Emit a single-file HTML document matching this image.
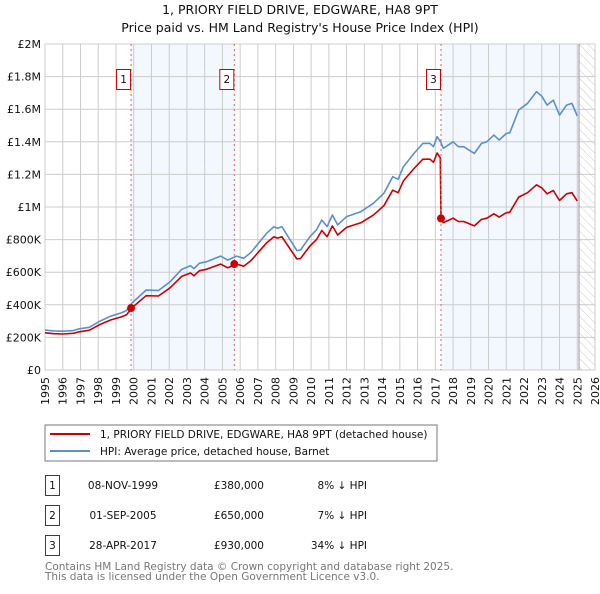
<!DOCTYPE html>
<html><head><meta charset="utf-8"><style>
body{margin:0;background:#fff;width:600px;height:590px;overflow:hidden;font-family:"DejaVu Sans","Liberation Sans",sans-serif;}
svg text{font-family:"DejaVu Sans","Liberation Sans",sans-serif;}
</style></head><body>
<svg id="chart" width="600" height="590" viewBox="0 0 600 590" xmlns="http://www.w3.org/2000/svg">
<defs><pattern id="hatch" width="6" height="6" patternUnits="userSpaceOnUse" patternTransform="rotate(-45)"><line x1="0" y1="0" x2="0" y2="6" stroke="#ccc" stroke-width="1"/></pattern></defs>
<text x="300" y="14" text-anchor="middle" font-size="12.5" fill="#111">1, PRIORY FIELD DRIVE, EDGWARE, HA8 9PT</text>
<text x="300" y="32" text-anchor="middle" font-size="12.5" fill="#111">Price paid vs. HM Land Registry's House Price Index (HPI)</text>
<g id="bg"></g><g id="grid"></g><g id="axes"></g><g id="series"></g><g id="marks"></g>
<g>
<rect x="45" y="425" width="392" height="36" fill="#fff" stroke="#777" stroke-width="1"/>
<line x1="50" y1="434" x2="90" y2="434" stroke="#cc0000" stroke-width="2"/>
<text x="100" y="438" font-size="10.5" fill="#111">1, PRIORY FIELD DRIVE, EDGWARE, HA8 9PT (detached house)</text>
<line x1="50" y1="451" x2="90" y2="451" stroke="#5b8fd0" stroke-width="2"/>
<text x="100" y="455" font-size="10.5" fill="#111">HPI: Average price, detached house, Barnet</text>
</g>
<g font-size="10.5" fill="#111">
<rect x="45.5" y="475.5" width="14" height="20" fill="#fff" stroke="#c00" stroke-width="1"/><text x="52.5" y="489" text-anchor="middle">1</text>
<text x="123" y="489" text-anchor="middle">08-NOV-1999</text><text x="264" y="489" text-anchor="end">£380,000</text><text x="367" y="489" text-anchor="end">8% ↓ HPI</text>
<rect x="45.5" y="505.5" width="14" height="20" fill="#fff" stroke="#c00" stroke-width="1"/><text x="52.5" y="519" text-anchor="middle">2</text>
<text x="123" y="519" text-anchor="middle">01-SEP-2005</text><text x="264" y="519" text-anchor="end">£650,000</text><text x="367" y="519" text-anchor="end">7% ↓ HPI</text>
<rect x="45.5" y="535.5" width="14" height="20" fill="#fff" stroke="#c00" stroke-width="1"/><text x="52.5" y="549" text-anchor="middle">3</text>
<text x="123" y="549" text-anchor="middle">28-APR-2017</text><text x="264" y="549" text-anchor="end">£930,000</text><text x="367" y="549" text-anchor="end">34% ↓ HPI</text>
</g>
<text x="45" y="570" font-size="10.5" fill="#777">Contains HM Land Registry data © Crown copyright and database right 2025.</text>
<text x="45" y="580" font-size="10.5" fill="#777">This data is licensed under the Open Government Licence v3.0.</text>
</svg>
<script>
const hpiYears=[1995.0,1995.5,1996.0,1996.6,1996.9,1997.5,1998.1,1998.7,1999.3,1999.6,1999.88,2000.3,2000.7,2001.4,2002.05,2002.7,2003.2,2003.4,2003.7,2004.1,2004.9,2005.3,2005.8,2006.2,2006.6,2007.1,2007.5,2007.9,2008.1,2008.35,2008.7,2009.2,2009.4,2009.93,2010.3,2010.6,2010.9,2011.2,2011.5,2012.0,2012.8,2013.5,2014.1,2014.6,2014.9,2015.2,2015.8,2016.3,2016.7,2016.9,2017.1,2017.3,2017.45,2018.0,2018.3,2018.6,2019.2,2019.6,2019.9,2020.3,2020.6,2021.0,2021.2,2021.7,2022.2,2022.7,2023.0,2023.3,2023.65,2024.0,2024.4,2024.7,2025.0];
const hpiValues=[245,240,238,242,252,262,300,330,350,365,409,450,490,488,542,617,640,622,655,664,699,674,699,685,720,787,840,879,870,879,818,732,736,818,860,920,880,951,890,941,971,1022,1084,1186,1170,1247,1329,1390,1390,1370,1431,1400,1360,1400,1370,1370,1329,1390,1400,1441,1411,1451,1455,1595,1636,1708,1680,1625,1656,1564,1625,1636,1558];
const priceYears=[1995.0,1995.5,1996.0,1996.6,1996.9,1997.5,1998.1,1998.7,1999.3,1999.6,1999.88,2000.3,2000.7,2001.4,2002.05,2002.7,2003.2,2003.4,2003.7,2004.1,2004.9,2005.3,2005.8,2006.2,2006.6,2007.1,2007.5,2007.9,2008.1,2008.35,2008.7,2009.2,2009.4,2009.93,2010.3,2010.6,2010.9,2011.2,2011.5,2012.0,2012.8,2013.5,2014.1,2014.6,2014.9,2015.2,2015.8,2016.3,2016.7,2016.9,2017.1,2017.28,2017.32,2017.45,2018.0,2018.3,2018.6,2019.2,2019.6,2019.9,2020.3,2020.6,2021.0,2021.2,2021.7,2022.2,2022.7,2023.0,2023.3,2023.65,2024.0,2024.4,2024.7,2025.0];
const priceValues=[228,223,221,225,234,244,279,307,326,339,380,419,456,454,504,574,595,578,609,618,650,627,650,637,670,732,781,817,809,817,761,681,684,761,800,856,818,884,828,875,903,950,1008,1103,1088,1160,1236,1293,1293,1274,1331,1302,930,904,931,911,911,884,924,931,958,938,965,968,1061,1088,1136,1117,1081,1101,1040,1081,1088,1036];
const saleYears=[1999.85,2005.67,2017.32];
const saleValues=[380,650,930];
const saleLabels=["1","2","3"];
const yTicks=[0,200,400,600,800,1000,1200,1400,1600,1800,2000];
const yTickLabels=["£0","£200K","£400K","£600K","£800K","£1M","£1.2M","£1.4M","£1.6M","£1.8M","£2M"];
const xTicks=[1995,1996,1997,1998,1999,2000,2001,2002,2003,2004,2005,2006,2007,2008,2009,2010,2011,2012,2013,2014,2015,2016,2017,2018,2019,2020,2021,2022,2023,2024,2025,2026];
const dataEnd=2025.1;

const L=45,R=595,T=44,B=370,X0=1995,X1=2026,YMAX=2000;
const NS="http://www.w3.org/2000/svg";
const xs=v=>L+(v-X0)/(X1-X0)*(R-L);
const ys=v=>B-v/YMAX*(B-T);
function mk(tag,attrs,parent){const e=document.createElementNS(NS,tag);for(const k in attrs)e.setAttribute(k,attrs[k]);parent.appendChild(e);return e;}
const bg=document.getElementById('bg'),grid=document.getElementById('grid'),axes=document.getElementById('axes'),series=document.getElementById('series'),marks=document.getElementById('marks');

let r=mk('rect',{x:L,y:T,width:R-L,height:B-T,fill:'#fff'},bg);


r=mk('rect',{x:xs(saleYears[0]),y:T,width:xs(saleYears[1])-xs(saleYears[0]),height:B-T,fill:'#eef3fd',opacity:0.7},bg);


r=mk('rect',{x:xs(saleYears[2]),y:T,width:xs(dataEnd)-xs(saleYears[2]),height:B-T,fill:'#eef3fd',opacity:0.7},bg);


r=mk('rect',{x:xs(dataEnd),y:T,width:R-xs(dataEnd),height:B-T,fill:'url(#hatch)'},bg);



yTicks.forEach((v,i)=>{
  let g=mk('line',{x1:L,x2:R,y1:ys(v),y2:ys(v),stroke:'#ccc','stroke-width':1},grid);
  
  
  let t=mk('text',{x:L-4,y:ys(v)+4,'text-anchor':'end','font-size':'11',fill:'#111'},axes);
  t.textContent=yTickLabels[i];
  
  
});
xTicks.forEach(v=>{
  let g=mk('line',{x1:xs(v),x2:xs(v),y1:T,y2:B,stroke:'#ccc','stroke-width':1},grid);
  
  
  const tx=xs(v)+4, ty=B+7;
  let t=mk('text',{x:tx,y:ty,'text-anchor':'end','font-size':'11',fill:'#111',transform:'rotate(-90 '+tx+' '+ty+')'},axes);
  t.textContent=String(v);
  
  
});
let fr=mk('rect',{x:L,y:T,width:R-L,height:B-T,fill:'none',stroke:'#ccc','stroke-width':1},grid);


let el=mk('line',{x1:xs(dataEnd),x2:xs(dataEnd),y1:T,y2:B,stroke:'#999','stroke-width':1},grid);



saleYears.forEach((v,i)=>{
  let d=mk('line',{x1:xs(v),x2:xs(v),y1:T,y2:B,stroke:'#e06060','stroke-width':1,'stroke-dasharray':'2,3'},marks);
  
  
});

function path(xv,yv){return xv.map((x,i)=>(i?'L':'M')+xs(x).toFixed(1)+','+ys(yv[i]).toFixed(1)).join('');}
let p=mk('path',{d:path(hpiYears,hpiValues),fill:'none',stroke:'#5b8fd0','stroke-width':1.6,'stroke-linejoin':'round'},series);


p=mk('path',{d:path(priceYears,priceValues),fill:'none',stroke:'#cc0000','stroke-width':1.6,'stroke-linejoin':'round'},series);



saleYears.forEach((v,i)=>{
  let c=mk('circle',{cx:xs(v),cy:ys(saleValues[i]),r:4,fill:'#cc0000'},marks);
  
  
  let b=mk('rect',{x:xs(v)-14.5,y:69.5,width:14,height:20,fill:'#fff',stroke:'#c00','stroke-width':1},marks);
  
  
  let t=mk('text',{x:xs(v)-7.5,y:83,'text-anchor':'middle','font-size':'10.5',fill:'#111'},marks);
  t.textContent=saleLabels[i];
  
  
});
</script>
</body></html>
